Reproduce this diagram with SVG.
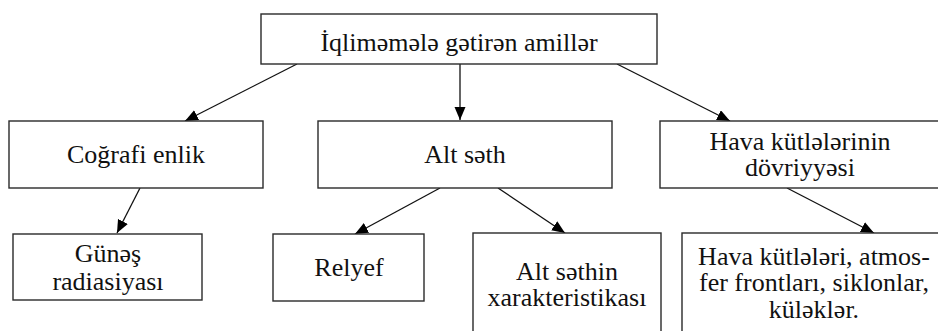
<svg xmlns="http://www.w3.org/2000/svg" width="938" height="331" viewBox="0 0 938 331">
  <style>
    .box { fill: #ffffff; stroke: #2a2a2a; stroke-width: 1.4; }
    .lbl { font-size: 26px; fill: #111111; text-anchor: middle; }
    .edge { fill: none; stroke: #111111; stroke-width: 1.3; }
  </style>
  <defs>
    <marker id="arrow" markerUnits="userSpaceOnUse" markerWidth="14" markerHeight="12" refX="13" refY="5.5" orient="auto">
      <path d="M0,0 L13,5.5 L0,11 Z" fill="#000000"/>
    </marker>
  </defs>

  <rect width="938" height="331" fill="#ffffff"/>

  <!-- connectors -->
  <g id="connectors">
    <line class="edge" x1="297" y1="64" x2="185" y2="121" marker-end="url(#arrow)"/>
    <line class="edge" x1="460" y1="64" x2="460" y2="120" marker-end="url(#arrow)"/>
    <line class="edge" x1="617" y1="64" x2="730" y2="121" marker-end="url(#arrow)"/>
    <line class="edge" x1="140" y1="188" x2="117" y2="233" marker-end="url(#arrow)"/>
    <line class="edge" x1="440" y1="188" x2="355" y2="234" marker-end="url(#arrow)"/>
    <line class="edge" x1="498" y1="188" x2="565" y2="233" marker-end="url(#arrow)"/>
    <line class="edge" x1="787" y1="188" x2="874" y2="233" marker-end="url(#arrow)"/>
  </g>

  <!-- root -->
  <g id="node-root">
    <rect class="box" x="261" y="14" width="396" height="50"/>
    <text class="lbl" x="459" y="51" font-family="Liberation Serif">İqliməmələ gətirən amillər</text>
  </g>

  <!-- second level -->
  <g id="node-latitude">
    <rect class="box" x="9" y="121" width="254" height="67"/>
    <text class="lbl" x="136" y="163" font-family="Liberation Serif">Coğrafi enlik</text>
  </g>
  <g id="node-surface">
    <rect class="box" x="318" y="121" width="294" height="67"/>
    <text class="lbl" x="465" y="163" font-family="Liberation Serif">Alt səth</text>
  </g>
  <g id="node-circulation">
    <rect class="box" x="660" y="121" width="290" height="67"/>
    <text class="lbl" x="800" y="150" font-family="Liberation Serif">Hava kütlələrinin</text>
    <text class="lbl" x="800" y="176" font-family="Liberation Serif">dövriyyəsi</text>
  </g>

  <!-- third level -->
  <g id="node-radiation">
    <rect class="box" x="13" y="234" width="189" height="66"/>
    <text class="lbl" x="108" y="262" font-family="Liberation Serif">Günəş</text>
    <text class="lbl" x="108" y="290" font-family="Liberation Serif">radiasiyası</text>
  </g>
  <g id="node-relief">
    <rect class="box" x="273" y="234" width="151" height="67"/>
    <text class="lbl" x="349" y="276" font-family="Liberation Serif">Relyef</text>
  </g>
  <g id="node-surface-props">
    <rect class="box" x="473" y="233" width="188" height="110"/>
    <text class="lbl" x="567" y="280" font-family="Liberation Serif">Alt səthin</text>
    <text class="lbl" x="567" y="306" font-family="Liberation Serif">xarakteristikası</text>
  </g>
  <g id="node-air-masses">
    <rect class="box" x="682" y="233" width="270" height="110"/>
    <text class="lbl" x="814" y="265" font-family="Liberation Serif">Hava kütlələri, atmos-</text>
    <text class="lbl" x="814" y="291" font-family="Liberation Serif">fer frontları, siklonlar,</text>
    <text class="lbl" x="814" y="318" font-family="Liberation Serif">küləklər.</text>
  </g>
</svg>
